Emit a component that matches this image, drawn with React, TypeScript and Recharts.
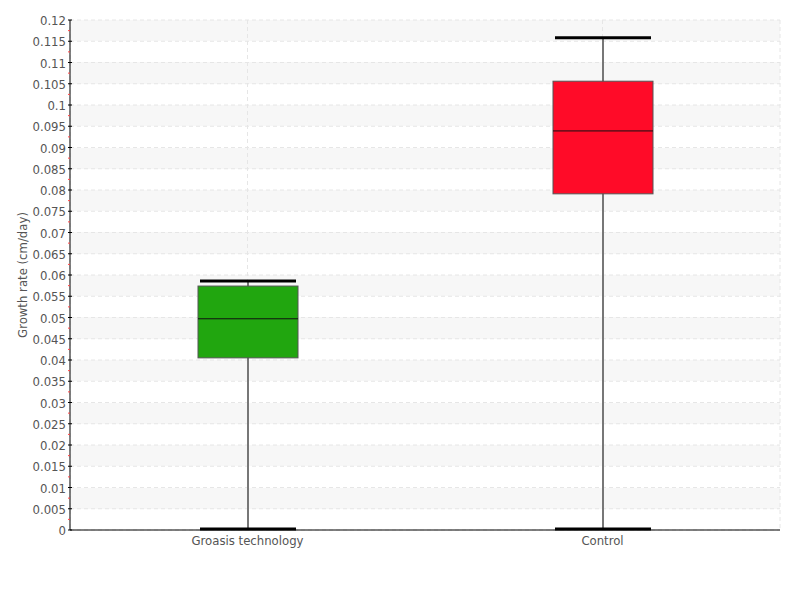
import { Bar, CartesianGrid, ComposedChart, XAxis, YAxis } from "recharts";

const categories = ["Groasis technology", "Control"];
const mins = [0, 0];
const q1s = [0.0405, 0.0791];
const medians = [0.0497, 0.0939];
const q3s = [0.0574, 0.1056];
const maxs = [0.0586, 0.1158];
const boxColors = ["#21a60f", "#ff0b28"];

const yMax = 0.12;
const majorTicks = [
  0, 0.005, 0.01, 0.015, 0.02, 0.025, 0.03, 0.035, 0.04, 0.045, 0.05, 0.055, 0.06,
  0.065, 0.07, 0.075, 0.08, 0.085, 0.09, 0.095, 0.1, 0.105, 0.11, 0.115, 0.12,
];
const minorTicks = majorTicks.slice(0, -1).map((v) => v + 0.0025);
const allTicks = [...majorTicks, ...minorTicks].sort((a, b) => a - b);

const rows = categories.map((name, i) => ({
  name,
  range: [mins[i], maxs[i]],
  min: mins[i],
  q1: q1s[i],
  median: medians[i],
  q3: q3s[i],
  max: maxs[i],
  color: boxColors[i],
}));

const FONT = "'DejaVu Sans Condensed', 'DejaVu Sans', sans-serif";

const fmt = (v: number) => String(Number(v.toFixed(4)));
const isMajor = (v: number) => majorTicks.some((m) => Math.abs(m - v) < 1e-9);

function YTick(props: any) {
  const { x, y, payload } = props;
  const v = payload.value;
  if (isMajor(v)) {
    return (
      <g>
        <line x1={x + 2} x2={x + 6} y1={y} y2={y} stroke="#000" strokeWidth={1} />
        <text x={x} y={y} dy={5} textAnchor="end" fill="#555" fontSize={13} fontFamily={FONT}>
          {fmt(v)}
        </text>
      </g>
    );
  }
  return <line x1={x + 2} x2={x + 4} y1={y} y2={y} stroke="#ff4444" strokeWidth={1} />;
}

function BoxShape(props: any) {
  const { x, y, width, height, payload } = props;
  const lo = payload.min;
  const hi = payload.max;
  const py = (v: number) => y + (height * (hi - v)) / (hi - lo);
  const cx = x + width / 2;
  const capHalf = width * 0.48;
  return (
    <g>
      <line x1={cx} x2={cx} y1={py(hi)} y2={py(lo)} stroke="#777" strokeWidth={2} />
      <rect
        x={x}
        y={py(payload.q3)}
        width={width}
        height={py(payload.q1) - py(payload.q3)}
        fill={payload.color}
        stroke="#555"
        strokeWidth={1}
      />
      <line x1={x} x2={x + width} y1={py(payload.median)} y2={py(payload.median)} stroke="#111" strokeWidth={1} />
      <line x1={cx - capHalf} x2={cx + capHalf} y1={py(hi)} y2={py(hi)} stroke="#000" strokeWidth={3} />
      <line x1={cx - capHalf} x2={cx + capHalf} y1={py(lo) - 1} y2={py(lo) - 1} stroke="#000" strokeWidth={3} />
    </g>
  );
}

function gridRows({ yAxis, offset }: any) {
  if (yAxis && typeof yAxis.scale === "function") return majorTicks.map((v) => yAxis.scale(v));
  return majorTicks.map((v) => offset.top + offset.height * (1 - v / yMax));
}

export default function App() {
  return (
    <div
      style={{
        position: "absolute",
        left: 0,
        top: 0,
        width: 800,
        height: 600,
        background: "#fff",
        fontStretch: "condensed",
      }}
    >
      <ComposedChart width={800} height={600} data={rows} margin={{ top: 20, right: 20, bottom: 40, left: 0 }}>
        <CartesianGrid
          stroke="#e6e6e6"
          strokeDasharray="4 3"
          horizontalFill={["#f7f7f7", "#ffffff"]}
          horizontalCoordinatesGenerator={gridRows}
        />
        <XAxis
          dataKey="name"
          height={30}
          tickLine={false}
          axisLine={{ stroke: "#000" }}
          tickMargin={0}
          tick={{ fill: "#555", fontSize: 13, fontFamily: FONT }}
        />
        <YAxis
          type="number"
          domain={[0, yMax]}
          ticks={allTicks}
          interval={0}
          width={70}
          tickLine={false}
          tickSize={0}
          tickMargin={4}
          axisLine={{ stroke: "#000" }}
          tick={<YTick />}
          label={{
            value: "Growth rate (cm/day)",
            angle: -90,
            position: "insideLeft",
            offset: 22,
            textAnchor: "middle",
            fill: "#555",
            fontSize: 13,
            fontFamily: FONT,
          }}
        />
        <Bar dataKey="range" barSize={100} shape={<BoxShape />} isAnimationActive={false} />
      </ComposedChart>
    </div>
  );
}
